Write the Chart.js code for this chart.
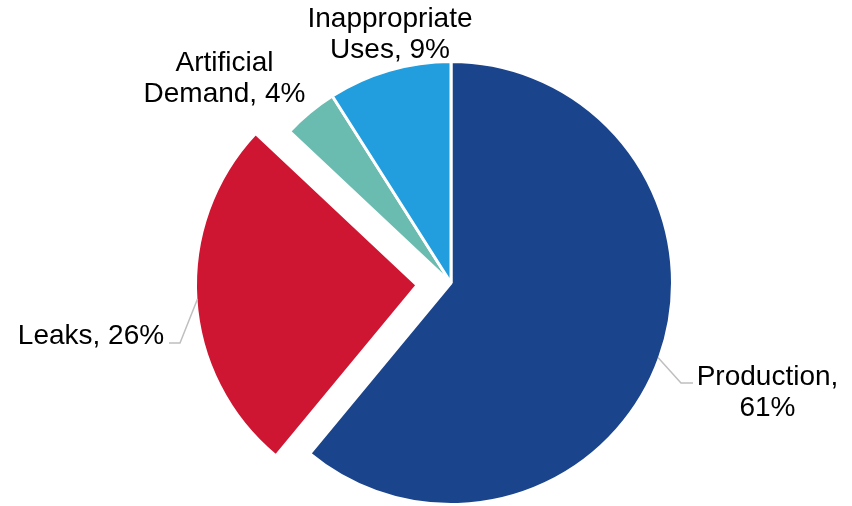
<!DOCTYPE html>
<html>
<head>
<meta charset="utf-8">
<script src="https://cdn.jsdelivr.net/npm/chart.js@4.4.0/dist/chart.umd.min.js"></script>
<style>
  html, body { margin: 0; padding: 0; background: #ffffff; }
  #wrap { width: 852px; height: 506px; }
</style>
</head>
<body>
<div id="wrap"><canvas id="pieCanvas" width="852" height="506"></canvas></div>
<script>
// Datos del gráfico
const categories = ['Production', 'Leaks', 'Artificial Demand', 'Inappropriate Uses'];
const values = [61, 26, 4, 9];
const colors = ['#1A448C', '#CE1531', '#6ABBB0', '#229EDE'];
const explode = [0, 136, 0, 0]; // Chart.js divide el offset entre 4

// Posición de etiquetas relativa al borde de cada porción
const labelLayout = [
    { wrap: true,  dx: 109.5, dy: 27.5, leader: [[23, 25.5], [35, 25.5]] },
    { wrap: false, dx: -106.5, dy: 45,  leader: [[-17.5, 44], [-28.5, 44]] },
    { wrap: true,  dx: -86.3, dy: -42,  leader: null },
    { wrap: true,  dx: 0.4,   dy: -44.4, leader: null }
];

function labelLines(i) {
    const text = categories[i] + ', ' + values[i] + '%';
    if (!labelLayout[i].wrap) return [text];
    const cut = text.indexOf(' ');
    return [text.slice(0, cut), text.slice(cut + 1)];
}

const outsideLabels = {
    id: 'outsideLabels',
    afterDatasetsDraw(chart) {
        const ctx = chart.ctx;
        const meta = chart.getDatasetMeta(0);
        ctx.save();
        meta.data.forEach((arc, i) => {
            const p = arc.getProps(['x', 'y', 'startAngle', 'endAngle', 'outerRadius']);
            const mid = (p.startAngle + p.endAngle) / 2;
            const off = (arc.options.offset || 0) / 4;
            const r = p.outerRadius - arc.options.borderWidth / 2 + off;
            const ex = p.x + Math.cos(mid) * r;
            const ey = p.y + Math.sin(mid) * r;
            const lay = labelLayout[i];

            if (lay.leader) {
                ctx.strokeStyle = '#BFBFBF';
                ctx.lineWidth = 1.5;
                ctx.beginPath();
                ctx.moveTo(ex, ey);
                lay.leader.forEach(pt => ctx.lineTo(ex + pt[0], ey + pt[1]));
                ctx.stroke();
            }

            ctx.fillStyle = '#000000';
            ctx.font = '28px "Liberation Sans", Arial, sans-serif';
            ctx.textAlign = 'center';
            ctx.textBaseline = 'alphabetic';
            labelLines(i).forEach((line, k) => {
                ctx.fillText(line, ex + lay.dx, ey + lay.dy + k * 30.5);
            });
        });
        ctx.restore();
    }
};

const canvas = document.getElementById('pieCanvas');
new Chart(canvas.getContext('2d'), {
    type: 'pie',
    data: {
        labels: categories,
        datasets: [{
            data: values,
            backgroundColor: colors,
            borderColor: '#ffffff',
            borderWidth: 3,
            offset: explode,
            radius: 221.5
        }]
    },
    options: {
        responsive: false,
        animation: false,
        layout: { padding: { left: 50, right: 0, top: 60, bottom: 0 } },
        plugins: {
            legend: { display: false },
            tooltip: { enabled: false }
        }
    },
    plugins: [outsideLabels]
});
</script>
</body>
</html>
